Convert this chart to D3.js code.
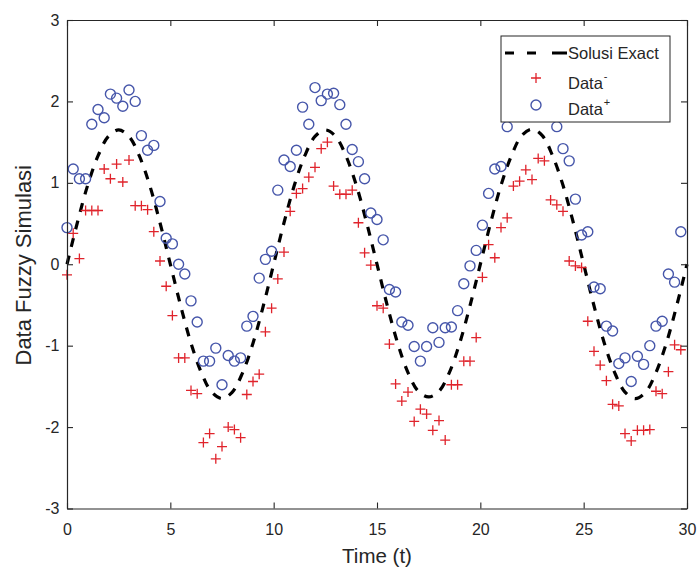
<!DOCTYPE html>
<html>
<head>
<meta charset="utf-8">
<script src="https://cdn.jsdelivr.net/npm/d3@7"></script>
<style>
  html, body { margin: 0; padding: 0; background: #fff; }
  svg { display: block; font-family: "Liberation Sans", Arial, Helvetica, sans-serif; }
</style>
</head>
<body>
<svg id="chart" width="700" height="569"></svg>
<script>
// Sampling times of the simulated fuzzy data
const timeGrid = [
  0.0, 0.3, 0.6, 0.9, 1.2, 1.5, 1.8, 2.1, 2.4, 2.7,
  3.0, 3.3, 3.6, 3.9, 4.2, 4.5, 4.8, 5.1, 5.4, 5.7,
  6.0, 6.3, 6.6, 6.9, 7.2, 7.5, 7.8, 8.1, 8.4, 8.7,
  9.0, 9.3, 9.6, 9.9, 10.2, 10.5, 10.8, 11.1, 11.4, 11.7,
  12.0, 12.3, 12.6, 12.9, 13.2, 13.5, 13.8, 14.1, 14.4, 14.7,
  15.0, 15.3, 15.6, 15.9, 16.2, 16.5, 16.8, 17.1, 17.4, 17.7,
  18.0, 18.3, 18.6, 18.9, 19.2, 19.5, 19.8, 20.1, 20.4, 20.7,
  21.0, 21.3, 21.6, 21.9, 22.2, 22.5, 22.8, 23.1, 23.4, 23.7,
  24.0, 24.3, 24.6, 24.9, 25.2, 25.5, 25.8, 26.1, 26.4, 26.7,
  27.0, 27.3, 27.6, 27.9, 28.2, 28.5, 28.8, 29.1, 29.4, 29.7
];

// Lower bound of the fuzzy data (Data^-)
const dataMinus = [
  -0.13, 0.38, 0.07, 0.66, 0.66, 0.66, 1.17, 1.05, 1.23, 1.01,
  1.28, 0.72, 0.72, 0.67, 0.40, 0.04, -0.27, -0.63, -1.15, -1.15,
  -1.55, -1.59, -2.19, -2.08, -2.39, -2.24, -2.00, -2.03, -2.13, -1.60,
  -1.44, -1.35, -0.83, -0.54, -0.18, 0.15, 0.65, 0.87, 0.93, 1.07,
  1.19, 1.42, 1.50, 0.96, 0.86, 0.86, 0.91, 0.51, 0.14, -0.01,
  -0.51, -0.54, -0.98, -1.47, -1.68, -1.57, -1.93, -1.78, -1.84, -2.04,
  -1.92, -2.16, -1.48, -1.48, -1.19, -1.19, -0.90, -0.16, 0.24, 0.08,
  0.45, 0.57, 0.96, 1.02, 1.16, 1.04, 1.30, 1.27, 0.79, 0.73,
  0.65, 0.04, -0.02, -0.04, -0.70, -1.07, -1.24, -1.43, -1.72, -1.74,
  -2.08, -2.17, -2.04, -2.04, -2.03, -1.56, -1.59, -1.32, -0.99, -1.05
];

// Upper bound of the fuzzy data (Data^+)
const dataPlus = [
  0.45, 1.17, 1.05, 1.05, 1.72, 1.90, 1.80, 2.09, 2.04, 1.94,
  2.14, 2.00, 1.58, 1.40, 1.46, 0.77, 0.32, 0.25, 0.00, -0.12,
  -0.45, -0.71, -1.19, -1.19, -1.03, -1.48, -1.12, -1.19, -1.15, -0.76,
  -0.64, -0.17, 0.06, 0.16, 0.91, 1.28, 1.20, 1.40, 1.93, 1.72,
  2.17, 2.01, 2.09, 2.10, 1.96, 1.72, 1.41, 1.26, 1.05, 0.63,
  0.55, 0.30, -0.31, -0.34, -0.71, -0.75, -1.01, -1.19, -1.01, -0.78,
  -0.96, -0.78, -0.77, -0.57, -0.24, -0.02, 0.17, 0.48, 0.87, 1.17,
  1.20, 1.69, 1.88, 2.02, 2.10, 1.98, 2.06, 1.92, 1.90, 1.69,
  1.42, 1.27, 0.80, 0.36, 0.40, -0.28, -0.30, -0.76, -0.82, -1.22,
  -1.15, -1.44, -1.13, -1.23, -1.00, -0.76, -0.70, -0.12, -0.22, 0.40
];

// Exact solution sampled every half time unit
const exactTime = [
  0, 0.5, 1, 1.5, 2, 2.5, 3, 3.5, 4, 4.5,
  5, 5.5, 6, 6.5, 7, 7.5, 8, 8.5, 9, 9.5,
  10, 10.5, 11, 11.5, 12, 12.5, 13, 13.5, 14, 14.5,
  15, 15.5, 16, 16.5, 17, 17.5, 18, 18.5, 19, 19.5,
  20, 20.5, 21, 21.5, 22, 22.5, 23, 23.5, 24, 24.5,
  25, 25.5, 26, 26.5, 27, 27.5, 28, 28.5, 29, 29.5, 30
];
const exactValue = [
  0, 0.51, 0.97, 1.33, 1.57, 1.65, 1.57, 1.33, 0.97, 0.51,
  0, -0.51, -0.97, -1.33, -1.57, -1.65, -1.57, -1.33, -0.97, -0.51,
  0, 0.51, 0.97, 1.33, 1.57, 1.65, 1.57, 1.33, 0.97, 0.51,
  0, -0.51, -0.97, -1.33, -1.56, -1.63, -1.56, -1.33, -0.97, -0.51,
  0, 0.51, 0.97, 1.33, 1.58, 1.66, 1.58, 1.33, 0.97, 0.51,
  0, -0.51, -0.97, -1.33, -1.57, -1.65, -1.57, -1.33, -0.97, -0.51, 0
];

const xTicks = [0, 5, 10, 15, 20, 25, 30];
const yTicks = [-3, -2, -1, 0, 1, 2, 3];
const legendLabels = ["Solusi Exact", "Data", "Data"];
const legendSups = ["", "-", "+"];

// Layout
const W = 700, H = 569;
const plot = { left: 67, right: 687, top: 20, bottom: 508.5 };
const ink = "#262626";
const red = "#e0232b";
const blue = "#4656aa";

const svg = d3.select("#chart");
svg.append("rect").attr("width", W).attr("height", H).attr("fill", "#fff");

const x = d3.scaleLinear().domain([0, 30]).range([plot.left, plot.right]);
const y = d3.scaleLinear().domain([-3, 3]).range([plot.bottom, plot.top]);

// Exact solution: thick black dashed curve
const exactPts = exactTime.map((t, i) => [t, exactValue[i]]);
const line = d3.line().x(d => x(d[0])).y(d => y(d[1])).curve(d3.curveCatmullRom);
svg.append("path")
  .datum(exactPts)
  .attr("d", line)
  .attr("fill", "none")
  .attr("stroke", "#000")
  .attr("stroke-width", 3.2)
  .attr("stroke-dasharray", "9,9");

// Data^- as red plus markers
const armP = 5;
const plusG = svg.append("g").attr("stroke", red).attr("stroke-width", 1.3).attr("fill", "none");
plusG.selectAll("path")
  .data(timeGrid.map((t, i) => [t, dataMinus[i]]))
  .join("path")
  .attr("d", d => {
    const cx = x(d[0]), cy = y(d[1]);
    return `M${cx - armP},${cy}H${cx + armP}M${cx},${cy - armP}V${cy + armP}`;
  });

// Data^+ as blue open circles
svg.append("g").attr("stroke", blue).attr("stroke-width", 1.4).attr("fill", "none")
  .selectAll("circle")
  .data(timeGrid.map((t, i) => [t, dataPlus[i]]))
  .join("circle")
  .attr("cx", d => x(d[0]))
  .attr("cy", d => y(d[1]))
  .attr("r", 5);

// Axes: ticks point inward on all four sides
const tickLen = 6;
const gx = svg.append("g").attr("transform", `translate(0,${plot.bottom})`)
  .call(d3.axisBottom(x).tickValues(xTicks).tickSize(-tickLen).tickSizeOuter(0).tickPadding(15));
const gy = svg.append("g").attr("transform", `translate(${plot.left},0)`)
  .call(d3.axisLeft(y).tickValues(yTicks).tickSize(-tickLen).tickSizeOuter(0).tickPadding(7.5)
    .tickFormat(d3.format("d")));
const gt = svg.append("g").attr("transform", `translate(0,${plot.top})`)
  .call(d3.axisTop(x).tickValues(xTicks).tickSize(-tickLen).tickSizeOuter(0).tickFormat(""));
const gr = svg.append("g").attr("transform", `translate(${plot.right},0)`)
  .call(d3.axisRight(y).tickValues(yTicks).tickSize(-tickLen).tickSizeOuter(0).tickFormat(""));

[gx, gy, gt, gr].forEach(g => {
  g.select(".domain").attr("stroke", ink).attr("stroke-width", 1.2);
  g.selectAll(".tick line").attr("stroke", ink).attr("stroke-width", 1.1);
  g.selectAll(".tick text")
    .attr("fill", ink)
    .style("font-family", "'Liberation Sans', Arial, sans-serif")
    .style("font-size", "16px");
});
gy.selectAll(".tick text").text(d => d < 0 ? "-" + Math.abs(d) : d);

// Axis titles
svg.append("text")
  .attr("x", (plot.left + plot.right) / 2)
  .attr("y", 563)
  .attr("text-anchor", "middle")
  .attr("fill", ink)
  .style("font-size", "20.5px")
  .text("Time (t)");

svg.append("text")
  .attr("transform", `translate(31,${(plot.top + plot.bottom) / 2 + 1}) rotate(-90)`)
  .attr("text-anchor", "middle")
  .attr("fill", ink)
  .style("font-size", "22px")
  .text("Data Fuzzy Simulasi");

// Legend
const lg = svg.append("g");
lg.append("rect")
  .attr("x", 501).attr("y", 36).attr("width", 169).attr("height", 86)
  .attr("fill", "#fff").attr("stroke", ink).attr("stroke-width", 1);

lg.append("line")
  .attr("x1", 505).attr("x2", 567).attr("y1", 53).attr("y2", 53)
  .attr("stroke", "#000").attr("stroke-width", 3.2)
  .attr("stroke-dasharray", "9,13,9,16,15");

lg.append("path")
  .attr("d", `M${536 - armP},78H${536 + armP}M536,${78 - armP}V${78 + armP}`)
  .attr("stroke", red).attr("stroke-width", 1.3).attr("fill", "none");

lg.append("circle")
  .attr("cx", 536).attr("cy", 105).attr("r", 5)
  .attr("stroke", blue).attr("stroke-width", 1.4).attr("fill", "none");

const legendY = [58.5, 89, 115];
legendLabels.forEach((lab, i) => {
  const t = lg.append("text")
    .attr("x", 568).attr("y", legendY[i])
    .attr("fill", ink)
    .style("font-size", "16.5px")
    .text(lab);
  if (legendSups[i]) {
    t.append("tspan")
      .attr("dy", -9)
      .attr("dx", 1)
      .style("font-size", "11px")
      .text(legendSups[i]);
  }
});
</script>
</body>
</html>
